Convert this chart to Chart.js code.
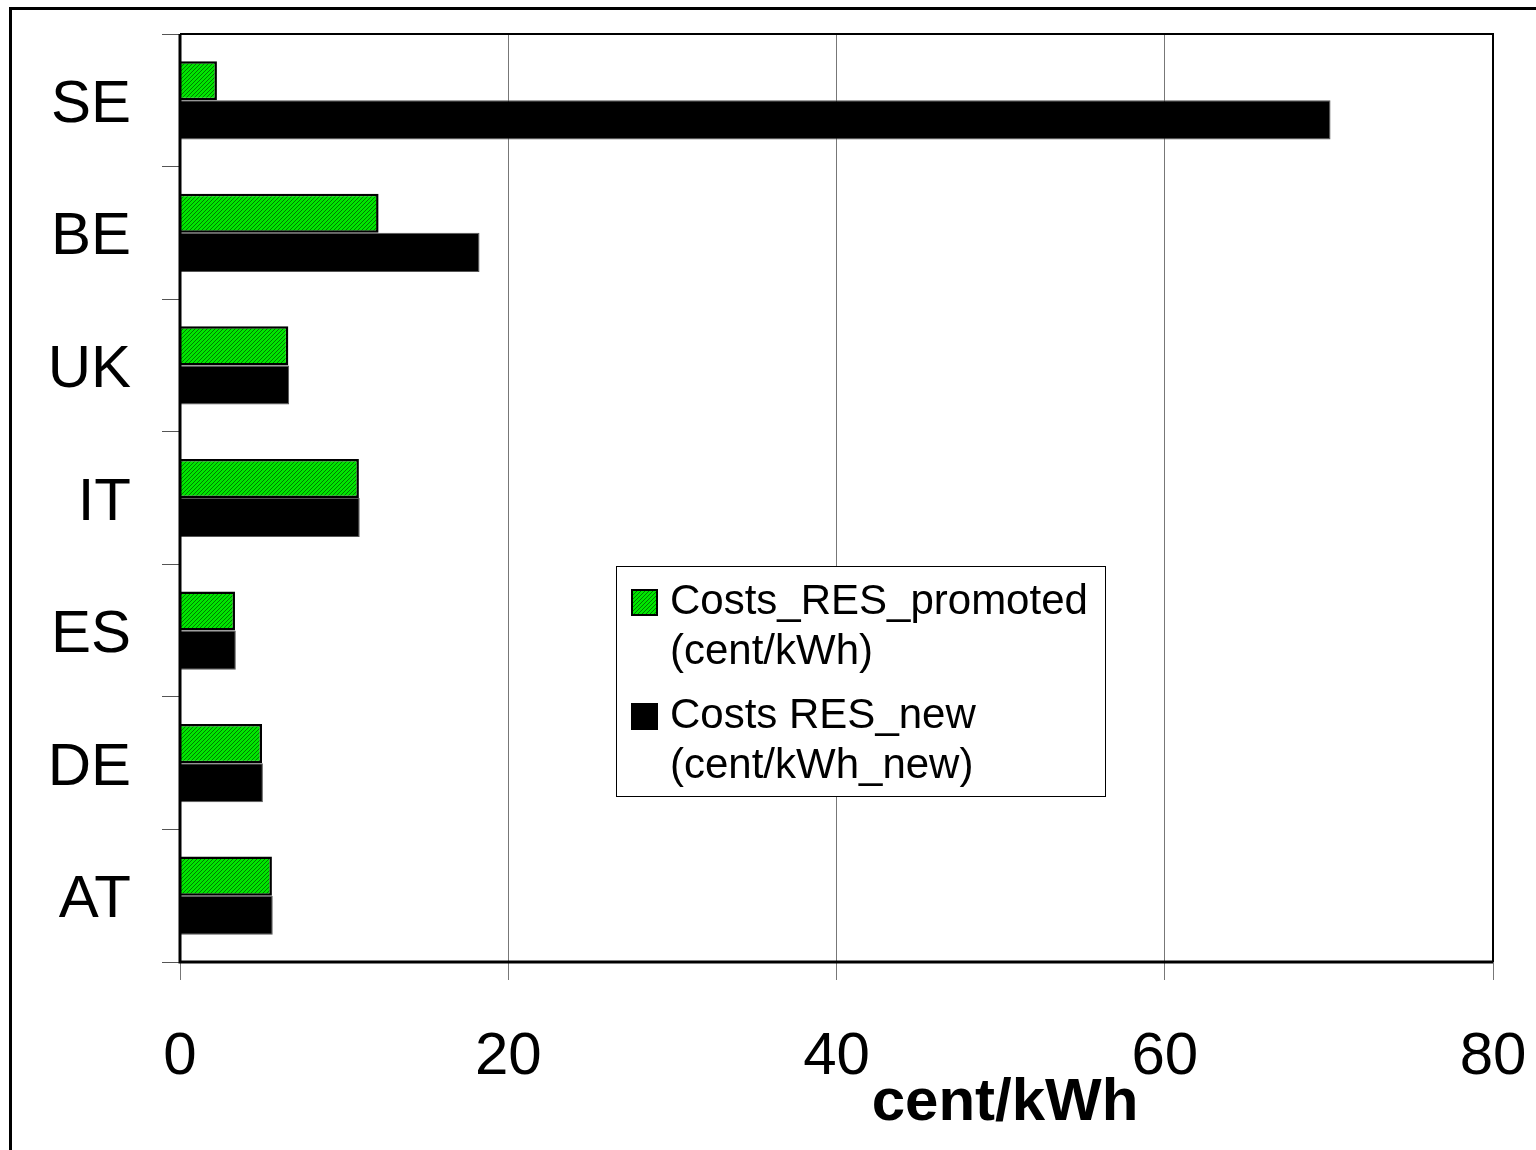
<!DOCTYPE html>
<html>
<head>
<meta charset="utf-8">
<script src="https://cdn.jsdelivr.net/npm/chart.js@4.4.1/dist/chart.umd.min.js"></script>
<style>
  html, body { margin: 0; padding: 0; background: #fff; }
  #wrap { width: 1536px; height: 1150px; }
</style>
</head>
<body>
<div id="wrap"><canvas id="costChart" width="1536" height="1150"></canvas></div>
<script>
// Countries, top to bottom
const countries = ['SE', 'BE', 'UK', 'IT', 'ES', 'DE', 'AT'];
// cent/kWh
const costsPromoted = [2.25, 12.1, 6.6, 10.9, 3.35, 5.0, 5.6];
const costsNew = [70.1, 18.25, 6.65, 10.95, 3.4, 5.05, 5.65];
const xTicks = [0, 20, 40, 60, 80];

const FONT = '"Liberation Sans", Arial, sans-serif';

// green fill with fine diagonal hatching
function makeHatch() {
  const c = document.createElement('canvas');
  c.width = 4; c.height = 4;
  const g = c.getContext('2d');
  g.fillStyle = '#00e600';
  g.fillRect(0, 0, 4, 4);
  g.strokeStyle = '#007a00';
  g.lineWidth = 1;
  g.beginPath();
  g.moveTo(0, 4); g.lineTo(4, 0);
  g.moveTo(-1, 1); g.lineTo(1, -1);
  g.moveTo(3, 5); g.lineTo(5, 3);
  g.stroke();
  return g.createPattern(c, 'repeat');
}

const ctx = document.getElementById('costChart').getContext('2d');
const hatch = makeHatch();

// outer frame, plot border, two-line legend box and axis title
const decorations = {
  id: 'decorations',
  beforeDraw(chart) {
    const c = chart.ctx;
    c.save();
    c.strokeStyle = '#000';
    c.lineWidth = 3;
    c.strokeRect(10.5, 8.5, 1600, 1300);
    c.restore();
  },
  afterDatasetsDraw(chart) {
    const c = chart.ctx;
    const a = chart.chartArea;
    c.save();
    c.strokeStyle = '#000';
    c.lineWidth = 2;
    c.beginPath();
    c.moveTo(a.left, a.top);
    c.lineTo(a.right, a.top);
    c.lineTo(a.right, a.bottom);
    c.stroke();
    c.lineWidth = 3;
    c.beginPath();
    c.moveTo(a.left, a.top);
    c.lineTo(a.left, a.bottom);
    c.lineTo(a.right, a.bottom);
    c.stroke();

    // legend
    const lx = a.left + 436, ly = a.top + 532, lw = 489, lh = 230;
    c.fillStyle = '#fff';
    c.fillRect(lx, ly, lw, lh);
    c.lineWidth = 1;
    c.strokeStyle = '#000';
    c.strokeRect(lx + 0.5, ly + 0.5, lw, lh);
    const entries = [
      { fill: hatch, lines: ['Costs_RES_promoted', '(cent/kWh)'] },
      { fill: '#000', lines: ['Costs RES_new', '(cent/kWh_new)'] }
    ];
    c.font = '42px ' + FONT;
    c.textBaseline = 'middle';
    entries.forEach((e, i) => {
      const y0 = ly + 36 + i * 114;
      c.fillStyle = e.fill;
      c.fillRect(lx + 16, y0 - 12, 25, 25);
      c.lineWidth = 2;
      c.strokeStyle = '#000';
      c.strokeRect(lx + 16, y0 - 12, 25, 25);
      c.fillStyle = '#000';
      c.fillText(e.lines[0], lx + 54, y0);
      c.fillText(e.lines[1], lx + 54, y0 + 50);
    });

    // axis title
    c.font = 'bold 60px ' + FONT;
    c.textAlign = 'center';
    c.textBaseline = 'alphabetic';
    c.fillText('cent/kWh', a.left + 825, a.bottom + 158);
    c.restore();
  }
};

new Chart(ctx, {
  type: 'bar',
  data: {
    labels: countries,
    datasets: [
      {
        label: 'Costs_RES_promoted (cent/kWh)',
        data: costsPromoted,
        backgroundColor: hatch,
        borderColor: '#000',
        borderWidth: 2.5,
        borderSkipped: 'left'
      },
      {
        label: 'Costs RES_new (cent/kWh_new)',
        data: costsNew,
        backgroundColor: '#000',
        borderColor: '#555',
        borderWidth: 1,
        borderSkipped: 'left'
      }
    ]
  },
  options: {
    indexAxis: 'y',
    responsive: false,
    animation: false,
    categoryPercentage: 0.59,
    barPercentage: 1,
    layout: { padding: { top: 34, right: 43, left: 0, bottom: 0 } },
    plugins: {
      legend: { display: false },
      tooltip: { enabled: false }
    },
    scales: {
      x: {
        min: 0,
        max: 80,
        afterBuildTicks(scale) {
          scale.ticks = xTicks.map(v => ({ value: v }));
        },
        afterFit(scale) {
          scale.height = 188;
          scale.paddingLeft = 0;
          scale.paddingRight = 0;
        },
        grid: {
          color: '#777',
          lineWidth: 1,
          tickLength: 18,
          drawOnChartArea: true
        },
        border: { display: false },
        ticks: {
          color: '#000',
          font: { family: FONT, size: 60 },
          padding: 41,
          maxRotation: 0
        }
      },
      y: {
        afterFit(scale) {
          scale.width = 180;
          scale.paddingTop = 0;
          scale.paddingBottom = 0;
        },
        grid: {
          color: '#555',
          lineWidth: 1,
          tickLength: 18,
          drawOnChartArea: false
        },
        border: { display: false },
        ticks: {
          color: '#000',
          font: { family: FONT, size: 60 },
          padding: 31,
          labelOffset: 5
        }
      }
    }
  },
  plugins: [decorations]
});
</script>
</body>
</html>
